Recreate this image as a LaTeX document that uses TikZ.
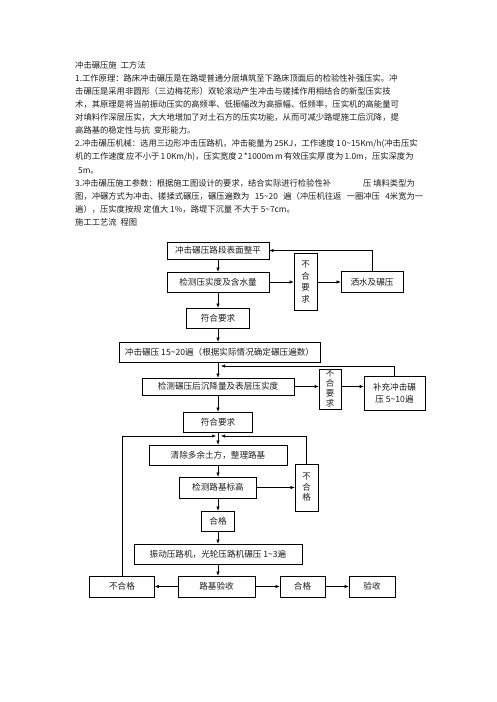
\documentclass[tikz,border=0pt]{standalone}
\usepackage{fontspec}
\setmainfont{Noto Sans CJK SC}
\usetikzlibrary{arrows.meta}
\XeTeXinterchartokenstate=1
\newcommand\cjkglue{}
\XeTeXinterchartoks 0 1 = {\cjkglue}
\XeTeXinterchartoks 1 0 = {\cjkglue}
\XeTeXinterchartoks 1 1 = {\cjkglue}
\XeTeXinterchartoks 1 2 = {\cjkglue}
\XeTeXinterchartoks 2 1 = {\cjkglue}
\XeTeXinterchartoks 1 3 = {\cjkglue}
\XeTeXinterchartoks 3 1 = {\cjkglue}
\XeTeXinterchartoks 0 3 = {\cjkglue}
\XeTeXinterchartoks 3 0 = {\cjkglue}
\XeTeXinterchartoks 0 2 = {\cjkglue}
\XeTeXinterchartoks 3 2 = {\cjkglue}
\newcommand\jline[2]{\hbox to #1{\def\cjkglue{\hskip 0pt plus 1fil\relax}#2}}
\definecolor{ink}{HTML}{1E1E1E}
\newcommand\bodyf{\fontsize{8.3}{13}\selectfont}
\newcommand\flowf{\fontsize{8.6}{11}\selectfont}
\begin{document}
\begin{tikzpicture}[x=1pt,y=-1pt,
  txt/.style={anchor=base west, inner sep=0pt, font=\bodyf, text=ink},
  fb/.style={draw=black, line width=0.6pt, inner sep=0pt, font=\flowf, text=ink},
  vb/.style={fb, align=center},
  arr/.style={line width=0.5pt, -{Latex[length=4pt,width=3.2pt]}},
  ln/.style={line width=0.5pt}]
\fill[white] (0,0) rectangle (496,702);
\useasboundingbox (0,0) rectangle (496,702);
% body text
\node[txt] (t0) at (75,68.2) {冲击碾压施\hspace{4pt}工方法};
\node[txt] (t1) at (75,81.3) {\jline{330pt}{1.工作原理：路床冲击碾压是在路堤普通分层填筑至下路床顶面后的检验性补强压实。冲}};
\node[txt] (t2) at (75,94.4) {\jline{324pt}{击碾压是采用非圆形（三边梅花形）双轮滚动产生冲击与搓揉作用相结合的新型压实技}};
\node[txt] (t3) at (75,107.5) {\jline{346pt}{术，其原理是将当前振动压实的高频率、低振幅改为高振幅、低频率，压实机的高能量可}};
\node[txt] (t4) at (75,120.6) {\jline{345pt}{对填料作深层压实，大大地增加了对土石方的压实功能，从而可减少路堤施工后沉降，提}};
\node[txt] (t5) at (75,133.7) {高路基的稳定性与抗\hspace{4pt}变形能力。};
\node[txt] (t6) at (75,146.8) {\jline{338pt}{2.冲击碾压机械：选用三边形冲击压路机，冲击能量为 25KJ，工作速度 1 0\textasciitilde 15Km/h(冲击压实}};
\node[txt] (t7) at (75,159.9) {\jline{338pt}{机的工作速度 应不小于 1 0Km/h)，压实宽度 2 *1000m m 有效压实厚 度为 1.0m，压实深度为}};
\node[txt] (t8) at (78,173.0) {5m。};
\node[txt] (t9) at (75,186.1) {\jline{267pt}{3.冲击碾压施工参数：根据施工图设计的要求，结合实际进行检验性补}};
\node[txt] (t9b) at (363,186.1) {压 填料类型为};
\node[txt] (t10) at (75,199.2) {\jline{348pt}{图，冲碾方式为冲击、搓揉式碾压，碾压遍数为 15\textasciitilde 20 遍（冲压机往返 一圈冲压 4米宽为一}};
\node[txt] (t11) at (75,212.3) {遍），压实度按规 定值大 1\%，路堤下沉量 不大于 5\textasciitilde 7cm。};
\node[txt] (t12) at (75,225.4) {施工工艺流\hspace{4pt}程图};
% flow boxes
\node[fb, minimum width=102pt, minimum height=17pt] (b1) at (218,250.5) {冲击碾压路段表面整平};
\node[fb, minimum width=102pt, minimum height=20pt] (b2) at (218,282) {检测压实度及含水量};
\node[vb, minimum width=23pt, minimum height=57pt, font=\fontsize{8.5}{11.5}\selectfont] (q1) at (305.5,282) {不\\合\\要\\求};
\node[fb, minimum width=62pt, minimum height=21pt] (sa) at (372,282) {洒水及碾压};
\node[fb, minimum width=63pt, minimum height=20pt] (f1) at (218,318) {符合要求};
\node[fb, minimum width=201pt, minimum height=20pt] (cj) at (219.5,352) {冲击碾压 15\textasciitilde 20遍（根据实际情况确定碾压遍数）};
\node[fb, minimum width=152pt, minimum height=17pt] (jc) at (218,386.5) {检测碾压后沉降量及表层压实度};
\node[vb, minimum width=22pt, minimum height=40pt, font=\fontsize{8.5}{10}\selectfont] (q2) at (330,389) {不\\合\\要\\求};
\node[vb, minimum width=61pt, minimum height=34pt, font=\fontsize{8.6}{12}\selectfont] (bc) at (394.5,393) {补充冲击碾\\压 5\textasciitilde 10遍};
\node[fb, minimum width=69pt, minimum height=20pt] (f2) at (218,422) {符合要求};
\node[fb, minimum width=138pt, minimum height=20pt] (qc) at (218,455) {清除多余土方，整理路基};
\node[fb, minimum width=77pt, minimum height=21pt] (jl) at (218,487.5) {检测路基标高};
\node[vb, minimum width=23pt, minimum height=47pt, font=\fontsize{8.5}{10.5}\selectfont] (ng) at (306.5,487.5) {不\\合\\格};
\node[fb, minimum width=33pt, minimum height=20pt] (h1) at (218,521) {合格};
\node[fb, minimum width=168pt, minimum height=20pt] (zd) at (218,554) {振动压路机，光轮压路机碾压 1\textasciitilde 3遍};
\node[fb, minimum width=65pt, minimum height=21pt] (ng2) at (122,586.5) {不合格};
\node[fb, minimum width=77pt, minimum height=21pt] (ys) at (216.5,586.5) {路基验收};
\node[fb, minimum width=45pt, minimum height=21pt] (h2) at (302.5,586.5) {合格};
\node[fb, minimum width=46pt, minimum height=21pt] (yz) at (372,586.5) {验收};
\coordinate (j10) at (221,366);
\coordinate (jL) at (216,436);
\coordinate (jR) at (221,436);
% connectors
\draw[arr] (b1.south) -- (b2.north);
\draw[arr] (b2.east) -- (q1.west);
\draw[arr] (q1.east) -- (sa.west);
\draw[arr] (sa.north) |- (b1.east);
\draw[arr] (b2.south) -- (f1.north);
\draw[arr] (f1.south) -- (f1.south |- cj.north);
\draw[arr] (cj.south -| jc.north) -- (jc.north);
\draw[arr] (bc.north) |- (j10);
\draw[arr] (jc.east) -- (jc.east -| q2.west);
\draw[arr] (q2.east |- jc.east) -- (bc.west |- jc.east);
\draw[arr] (jc.south) -- (f2.north);
\draw[arr] (f2.south) -- (qc.north);
\draw[arr] (ng2.north) |- (jL);
\draw[arr] (ng.north) |- (jR);
\draw[arr] (qc.south) -- (jl.north);
\draw[arr] (jl.east) -- (ng.west);
\draw[arr] (jl.south) -- (h1.north);
\draw[arr] (h1.south) -- (zd.north);
\draw[arr] (zd.south) -- (zd.south |- ys.north);
\draw[arr] (ys.west) -- (ng2.east);
\draw[arr] (ys.east) -- (h2.west);
\draw[arr] (h2.east) -- (yz.west);
\end{tikzpicture}
\end{document}
